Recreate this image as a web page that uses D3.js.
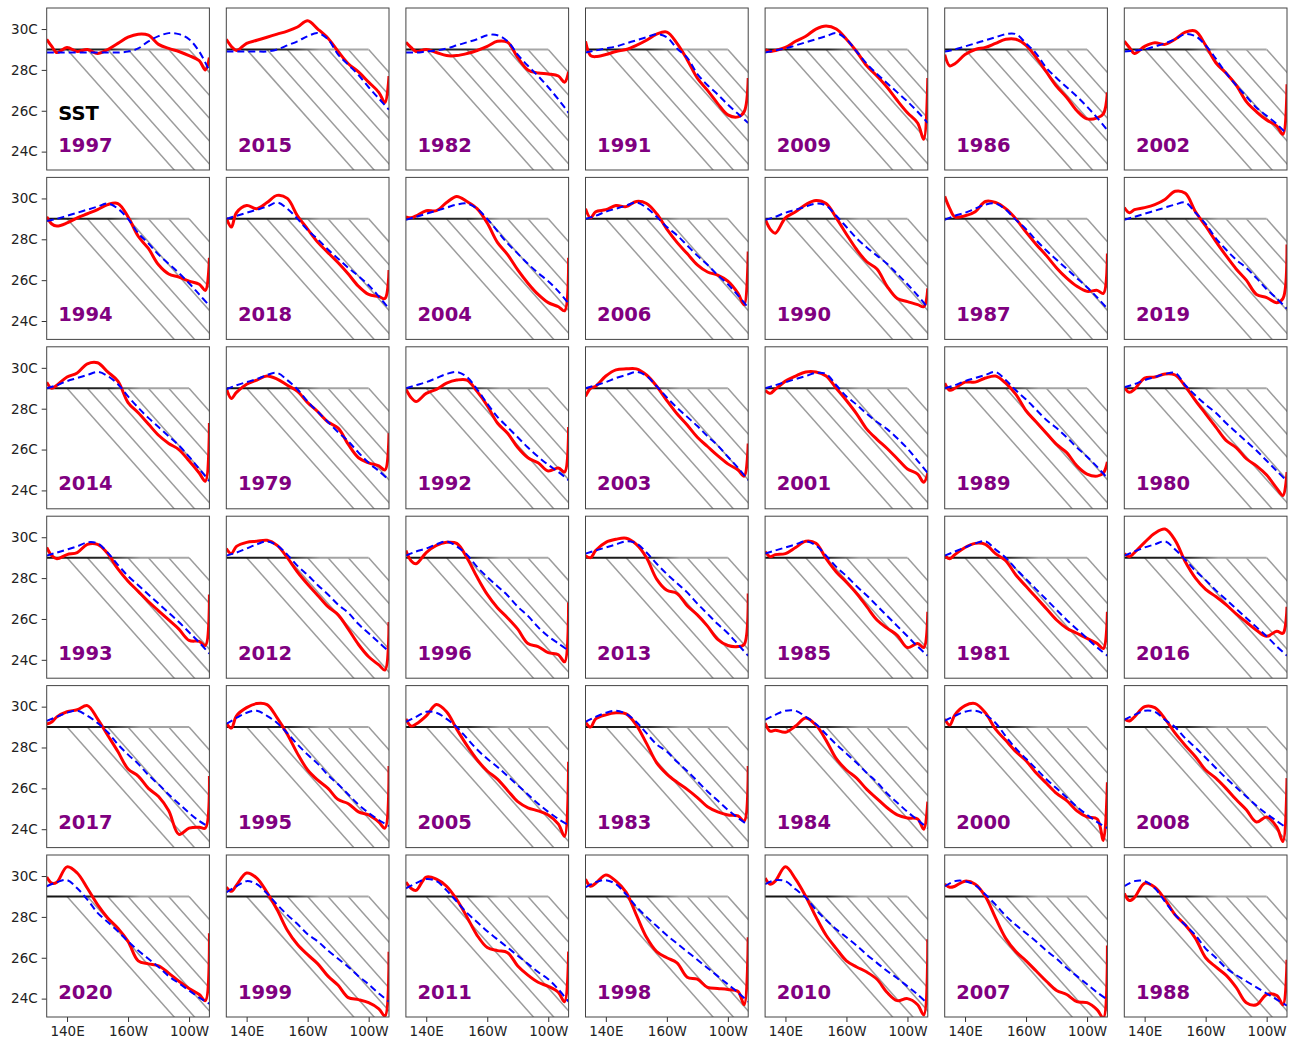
<!DOCTYPE html>
<html>
<head>
<meta charset="utf-8">
<script src="https://cdn.jsdelivr.net/npm/d3@7"></script>
<style>
  body { margin: 0; background: #fff; }
  svg { display: block; }
  text { font-family: "DejaVu Sans", "Noto Sans", sans-serif; }
</style>
</head>
<body>
<svg id="chart" width="1294" height="1040"></svg>
<script>
// Longitudes (degrees east) at which the SST profile and the fitted profile are sampled
const lonSst = [120, 125, 130, 140, 150, 160, 170, 180, 190, 200, 210, 220, 230, 240, 250, 260, 270, 276, 280];
const lonFit = [120, 130, 140, 150, 160, 170, 180, 190, 200, 210, 220, 230, 240, 250, 260, 270, 280];

// Warm-pool threshold and the hatched cold-tongue guide lines
const threshold = 29;
const hatchStarts = [140, 160, 180, 200, 220, 240, 260];
const hatchSlope = 0.056; // degC per degree of longitude

const yTicks = [24, 26, 28, 30];
const yTickLabels = ["24C", "26C", "28C", "30C"];
const xTicks = [140, 200, 260];
const xTickLabels = ["140E", "160W", "100W"];

// Row 1
const row1Years = [1997, 2015, 1982, 1991, 2009, 1986, 2002];
const row1Sst = [
  [29.5, 29.15, 28.85, 29.1, 28.9, 29.0, 28.8, 29.0, 29.3, 29.6, 29.75, 29.7, 29.25, 29.05, 28.9, 28.7, 28.45, 28.0, 28.6],
  [29.5, 29.15, 28.95, 29.3, 29.45, 29.6, 29.75, 29.9, 30.1, 30.4, 30.0, 29.55, 28.9, 28.3, 27.9, 27.4, 26.9, 26.4, 27.7],
  [29.35, 29.1, 28.9, 29.0, 28.85, 28.7, 28.7, 28.8, 28.95, 29.15, 29.4, 29.35, 28.6, 28.0, 27.85, 27.8, 27.7, 27.4, 27.9],
  [29.4, 28.7, 28.65, 28.75, 28.9, 29.0, 29.2, 29.45, 29.75, 29.85, 29.3, 28.5, 27.6, 27.0, 26.35, 25.8, 25.7, 25.95, 27.6],
  [29.0, 28.9, 28.95, 29.1, 29.4, 29.65, 30.0, 30.15, 30.0, 29.5, 28.9, 28.2, 27.7, 27.15, 26.5, 25.9, 25.4, 24.6, 27.6],
  [28.75, 28.2, 28.3, 28.75, 29.0, 29.1, 29.3, 29.5, 29.5, 29.2, 28.6, 27.9, 27.2, 26.65, 26.0, 25.6, 25.65, 25.85, 26.9],
  [29.4, 29.1, 28.8, 29.15, 29.33, 29.25, 29.5, 29.85, 29.9, 29.2, 28.35, 27.85, 27.25, 26.45, 25.95, 25.55, 25.25, 24.85, 27.3]
];
const row1Fit = [
  [28.85, 28.85, 28.85, 28.85, 28.85, 28.85, 28.85, 28.85, 28.9, 29.05, 29.4, 29.65, 29.8, 29.75, 29.5, 28.9, 27.95],
  [28.9, 28.9, 28.9, 28.9, 28.9, 29.0, 29.2, 29.4, 29.65, 29.8, 29.5, 28.75, 28.25, 27.75, 27.15, 26.6, 26.05],
  [28.85, 28.85, 28.9, 28.95, 29.05, 29.2, 29.35, 29.5, 29.7, 29.7, 29.4, 28.75, 28.2, 27.7, 27.15, 26.55, 25.9],
  [28.85, 28.95, 29.05, 29.15, 29.3, 29.45, 29.6, 29.75, 29.6, 29.05, 28.6, 27.8, 27.25, 26.8, 26.3, 25.85, 25.4],
  [28.85, 28.95, 29.05, 29.2, 29.35, 29.5, 29.65, 29.8, 29.5, 28.9, 28.3, 27.8, 27.35, 26.9, 26.45, 25.95, 25.4],
  [28.9, 29.0, 29.15, 29.3, 29.45, 29.6, 29.75, 29.75, 29.3, 28.8, 28.1, 27.6, 27.15, 26.7, 26.2, 25.65, 25.05],
  [28.9, 28.95, 29.0, 29.15, 29.3, 29.5, 29.75, 29.65, 29.2, 28.55, 27.85, 27.25, 26.7, 26.15, 25.75, 25.35, 24.85]
];

// Row 2
const row2Years = [1994, 2018, 2004, 2006, 1990, 1987, 2019];
const row2Sst = [
  [29.1, 28.75, 28.65, 28.8, 29.05, 29.25, 29.45, 29.7, 29.75, 29.1, 28.15, 27.55, 26.75, 26.3, 26.15, 25.95, 25.8, 25.5, 27.1],
  [29.05, 28.6, 29.3, 29.65, 29.5, 29.8, 30.15, 30.0, 29.15, 28.5, 27.85, 27.35, 26.85, 26.3, 25.7, 25.3, 25.2, 25.1, 26.5],
  [29.1, 29.05, 29.15, 29.4, 29.4, 29.8, 30.1, 29.85, 29.5, 28.8, 27.85, 27.25, 26.5, 25.85, 25.3, 24.9, 24.7, 24.5, 27.1],
  [29.5, 29.05, 29.35, 29.45, 29.65, 29.6, 29.85, 29.75, 29.25, 28.5, 27.85, 27.3, 26.75, 26.4, 26.25, 25.95, 25.35, 24.8, 27.4],
  [29.0, 28.5, 28.3, 29.05, 29.35, 29.7, 29.9, 29.75, 29.05, 28.25, 27.5, 26.9, 26.55, 25.7, 25.1, 24.95, 24.8, 24.7, 25.6],
  [30.1, 29.5, 29.1, 29.15, 29.35, 29.85, 29.8, 29.5, 29.0, 28.35, 27.75, 27.2, 26.6, 26.1, 25.7, 25.45, 25.5, 25.35, 27.3],
  [29.55, 29.3, 29.45, 29.55, 29.7, 29.95, 30.35, 30.25, 29.35, 28.65, 27.9, 27.2, 26.55, 26.0, 25.3, 25.15, 24.9, 25.1, 27.75]
];
const row2Fit = [
  [28.9, 29.0, 29.15, 29.3, 29.45, 29.6, 29.75, 29.5, 29.0, 28.3, 27.8, 27.25, 26.8, 26.35, 25.85, 25.3, 24.75],
  [29.0, 29.15, 29.3, 29.45, 29.6, 29.8, 29.5, 29.0, 28.45, 28.0, 27.5, 27.05, 26.6, 26.2, 25.75, 25.2, 24.6],
  [28.95, 29.1, 29.25, 29.4, 29.55, 29.7, 29.75, 29.5, 29.0, 28.4, 27.8, 27.3, 26.8, 26.35, 25.95, 25.45, 24.85],
  [29.0, 29.15, 29.35, 29.5, 29.65, 29.8, 29.55, 29.1, 28.6, 28.2, 27.7, 27.2, 26.75, 26.25, 25.8, 25.25, 24.65],
  [28.95, 29.1, 29.3, 29.45, 29.6, 29.75, 29.65, 29.15, 28.6, 28.05, 27.6, 27.2, 26.8, 26.3, 25.8, 25.25, 24.65],
  [28.95, 29.15, 29.3, 29.5, 29.7, 29.75, 29.45, 28.95, 28.5, 27.95, 27.45, 27.0, 26.55, 26.1, 25.65, 25.15, 24.6],
  [28.95, 29.1, 29.25, 29.4, 29.55, 29.7, 29.8, 29.3, 28.75, 28.05, 27.5, 27.0, 26.6, 26.1, 25.55, 25.1, 24.6]
];

// Row 3
const row3Years = [2014, 1979, 1992, 2003, 2001, 1989, 1980];
const row3Sst = [
  [29.3, 29.0, 29.15, 29.55, 29.75, 30.2, 30.25, 29.8, 29.35, 28.3, 27.8, 27.25, 26.7, 26.3, 26.0, 25.45, 24.85, 24.45, 27.3],
  [29.0, 28.5, 28.8, 29.2, 29.4, 29.6, 29.45, 29.15, 28.85, 28.3, 27.85, 27.35, 27.05, 26.25, 25.6, 25.35, 25.2, 25.0, 26.8],
  [28.95, 28.55, 28.35, 28.75, 28.95, 29.25, 29.4, 29.4, 28.85, 28.15, 27.3, 26.8, 26.1, 25.6, 25.35, 24.95, 25.1, 24.9, 27.1],
  [28.6, 29.0, 29.1, 29.6, 29.9, 29.95, 29.95, 29.65, 29.1, 28.4, 27.75, 27.2, 26.6, 26.15, 25.7, 25.3, 25.0, 24.7, 26.3],
  [28.9, 28.75, 28.95, 29.35, 29.6, 29.8, 29.8, 29.6, 29.0, 28.4, 27.75, 27.0, 26.5, 26.05, 25.55, 25.05, 24.8, 24.4, 24.85],
  [29.25, 28.9, 29.0, 29.3, 29.3, 29.5, 29.6, 29.25, 28.7, 27.9, 27.35, 26.8, 26.25, 25.85, 25.2, 24.8, 24.7, 24.85, 25.4],
  [29.05, 28.8, 28.95, 29.5, 29.55, 29.7, 29.65, 29.1, 28.4, 27.75, 27.1, 26.45, 26.1, 25.55, 25.2, 24.75, 24.1, 23.75, 24.9]
];
const row3Fit = [
  [29.0, 29.15, 29.35, 29.5, 29.65, 29.8, 29.6, 29.2, 28.6, 28.05, 27.55, 27.1, 26.65, 26.2, 25.65, 25.05, 24.45],
  [28.95, 29.15, 29.3, 29.45, 29.65, 29.75, 29.4, 28.95, 28.35, 27.85, 27.35, 26.85, 26.4, 25.85, 25.35, 24.95, 24.5],
  [29.0, 29.15, 29.3, 29.5, 29.7, 29.8, 29.55, 28.95, 28.25, 27.6, 27.1, 26.6, 26.1, 25.65, 25.25, 24.9, 24.5],
  [29.0, 29.15, 29.3, 29.5, 29.65, 29.8, 29.6, 29.1, 28.55, 28.05, 27.6, 27.15, 26.65, 26.2, 25.65, 25.1, 24.5],
  [29.0, 29.15, 29.3, 29.45, 29.6, 29.75, 29.7, 29.15, 28.6, 28.2, 27.75, 27.35, 27.0, 26.55, 26.05, 25.45, 24.85],
  [29.0, 29.15, 29.35, 29.5, 29.65, 29.8, 29.4, 28.9, 28.45, 27.95, 27.45, 27.05, 26.6, 26.1, 25.65, 25.15, 24.6],
  [29.05, 29.2, 29.4, 29.55, 29.7, 29.75, 29.15, 28.65, 28.2, 27.8, 27.3, 26.85, 26.4, 25.95, 25.45, 24.95, 24.45]
];

// Row 4
const row4Years = [1993, 2012, 1996, 2013, 1985, 1981, 2016];
const row4Sst = [
  [29.5, 29.1, 28.95, 29.15, 29.25, 29.65, 29.65, 29.2, 28.45, 27.85, 27.35, 26.85, 26.4, 25.95, 25.5, 24.95, 24.9, 24.7, 27.2],
  [29.45, 29.2, 29.55, 29.75, 29.8, 29.85, 29.6, 29.0, 28.3, 27.7, 27.15, 26.6, 26.2, 25.5, 24.75, 24.15, 23.75, 23.5, 25.85],
  [29.35, 28.85, 28.7, 29.25, 29.6, 29.75, 29.7, 29.0, 28.05, 27.2, 26.55, 26.05, 25.5, 24.8, 24.65, 24.35, 24.25, 23.9, 26.8],
  [29.1, 29.0, 29.35, 29.75, 29.9, 29.95, 29.65, 29.0, 27.95, 27.4, 27.25, 26.65, 26.2, 25.65, 25.0, 24.7, 24.65, 24.75, 27.25],
  [29.3, 29.05, 29.15, 29.2, 29.5, 29.8, 29.7, 28.95, 28.3, 27.8, 27.25, 26.6, 25.95, 25.55, 25.2, 24.6, 24.8, 24.6, 26.35],
  [29.1, 28.95, 29.15, 29.5, 29.7, 29.65, 29.2, 28.85, 28.15, 27.6, 27.05, 26.5, 25.95, 25.55, 25.3, 25.05, 24.8, 24.55, 26.35],
  [29.2, 29.05, 29.25, 29.75, 30.2, 30.4, 29.85, 28.8, 28.0, 27.45, 27.1, 26.7, 26.25, 25.85, 25.45, 25.15, 25.4, 25.3, 26.6]
];
const row4Fit = [
  [29.1, 29.25, 29.4, 29.55, 29.75, 29.7, 29.25, 28.65, 28.1, 27.65, 27.2, 26.75, 26.3, 25.85, 25.35, 24.85, 24.3],
  [29.1, 29.25, 29.45, 29.65, 29.8, 29.6, 29.15, 28.6, 28.15, 27.65, 27.2, 26.7, 26.3, 25.75, 25.3, 24.85, 24.4],
  [29.1, 29.3, 29.45, 29.65, 29.8, 29.55, 29.15, 28.55, 28.05, 27.6, 27.15, 26.6, 26.15, 25.6, 25.15, 24.8, 24.45],
  [29.2, 29.35, 29.5, 29.65, 29.8, 29.7, 29.25, 28.7, 28.2, 27.75, 27.3, 26.75, 26.25, 25.75, 25.3, 24.75, 24.2],
  [29.2, 29.35, 29.5, 29.65, 29.8, 29.6, 29.1, 28.55, 28.1, 27.6, 27.15, 26.65, 26.15, 25.65, 25.15, 24.65, 24.2],
  [29.1, 29.3, 29.5, 29.7, 29.8, 29.4, 29.0, 28.45, 27.95, 27.45, 26.95, 26.45, 25.95, 25.5, 25.05, 24.6, 24.2],
  [29.1, 29.3, 29.5, 29.65, 29.8, 29.4, 28.9, 28.35, 27.9, 27.4, 26.95, 26.5, 26.05, 25.6, 25.15, 24.65, 24.2]
];

// Row 5
const row5Years = [2017, 1995, 2005, 1983, 1984, 2000, 2008];
const row5Sst = [
  [29.15, 29.25, 29.5, 29.75, 29.85, 30.05, 29.4, 28.6, 27.8, 26.95, 26.6, 26.0, 25.6, 24.9, 23.75, 24.05, 24.1, 24.05, 26.6],
  [29.2, 28.95, 29.55, 29.95, 30.15, 30.1, 29.45, 28.65, 27.7, 26.9, 26.4, 26.0, 25.45, 25.25, 24.85, 24.7, 24.35, 24.05, 27.1],
  [29.4, 29.05, 29.15, 29.55, 30.1, 29.75, 28.9, 28.1, 27.4, 26.85, 26.45, 25.9, 25.35, 25.05, 24.9, 24.7, 24.25, 23.65, 27.3],
  [29.25, 29.0, 29.4, 29.6, 29.7, 29.65, 29.1, 28.2, 27.25, 26.7, 26.3, 25.95, 25.55, 25.1, 24.85, 24.7, 24.65, 24.4, 27.1],
  [29.2, 28.8, 28.85, 28.75, 29.05, 29.45, 29.1, 28.35, 27.45, 26.9, 26.5, 25.95, 25.5, 25.05, 24.7, 24.55, 24.5, 24.0, 25.35],
  [29.4, 29.1, 29.6, 30.05, 30.15, 29.7, 28.9, 28.35, 27.8, 27.35, 26.75, 26.25, 25.75, 25.4, 24.9, 24.6, 24.5, 23.45, 26.3],
  [29.4, 29.3, 29.5, 30.0, 29.95, 29.4, 28.7, 28.1, 27.55, 26.9, 26.5, 26.0, 25.45, 24.95, 24.35, 24.6, 24.1, 23.4, 26.5]
];
const row5Fit = [
  [29.3, 29.5, 29.7, 29.8, 29.55, 29.2, 28.75, 28.15, 27.65, 27.2, 26.65, 26.2, 25.7, 25.25, 24.8, 24.4, 24.1],
  [29.15, 29.45, 29.7, 29.8, 29.55, 29.2, 28.7, 28.15, 27.65, 27.2, 26.65, 26.2, 25.7, 25.2, 24.8, 24.45, 24.15],
  [29.25, 29.5, 29.75, 29.7, 29.4, 29.0, 28.45, 27.9, 27.45, 27.05, 26.6, 26.15, 25.7, 25.25, 24.85, 24.5, 24.2],
  [29.25, 29.5, 29.7, 29.8, 29.65, 29.25, 28.7, 28.15, 27.8, 27.3, 26.85, 26.35, 25.85, 25.4, 24.95, 24.55, 24.2],
  [29.35, 29.6, 29.8, 29.8, 29.5, 29.15, 28.65, 28.15, 27.7, 27.25, 26.75, 26.3, 25.75, 25.3, 24.85, 24.45, 24.05],
  [29.3, 29.55, 29.75, 29.8, 29.6, 29.2, 28.55, 27.95, 27.45, 26.95, 26.45, 26.0, 25.55, 25.1, 24.7, 24.35, 24.05],
  [29.35, 29.6, 29.8, 29.75, 29.35, 29.0, 28.45, 28.0, 27.5, 27.0, 26.5, 26.05, 25.6, 25.15, 24.75, 24.4, 24.05]
];

// Row 6
const row6Years = [2020, 1999, 2011, 1998, 2010, 2007, 1988];
const row6Sst = [
  [29.95, 29.65, 29.7, 30.45, 30.15, 29.4, 28.6, 27.95, 27.45, 26.8, 25.85, 25.7, 25.6, 25.25, 24.85, 24.5, 24.2, 23.9, 27.2],
  [29.45, 29.25, 29.55, 30.15, 29.9, 29.2, 28.35, 27.35, 26.65, 26.15, 25.7, 25.1, 24.65, 24.05, 23.95, 23.8, 23.5, 23.15, 26.3],
  [29.7, 29.4, 29.3, 29.95, 29.85, 29.5, 28.85, 28.0, 27.1, 26.5, 26.35, 26.25, 25.6, 25.15, 24.8, 24.6, 24.3, 23.85, 26.3],
  [29.85, 29.5, 29.65, 30.05, 29.75, 29.2, 28.1, 27.0, 26.3, 26.0, 25.75, 25.05, 24.95, 24.55, 24.5, 24.45, 24.35, 23.7, 27.0],
  [29.9, 29.6, 29.75, 30.45, 29.85, 29.0, 28.0, 27.1, 26.45, 25.85, 25.55, 25.3, 24.95, 24.3, 23.9, 24.0, 23.7, 23.2, 26.9],
  [29.6, 29.45, 29.5, 29.75, 29.6, 29.0, 27.95, 26.95, 26.3, 25.85, 25.35, 24.85, 24.4, 24.2, 23.85, 23.8, 23.45, 23.05, 26.6],
  [29.15, 28.8, 28.95, 29.65, 29.45, 28.85, 28.1, 27.6, 26.95, 26.0, 25.55, 25.15, 24.55, 23.8, 23.7, 24.2, 24.15, 23.7, 25.9]
];
const row6Fit = [
  [29.5, 29.7, 29.8, 29.4, 28.85, 28.2, 27.75, 27.3, 26.8, 26.35, 25.95, 25.55, 25.1, 24.75, 24.4, 24.05, 23.75],
  [29.2, 29.5, 29.75, 29.6, 29.15, 28.6, 28.1, 27.65, 27.15, 26.8, 26.35, 25.95, 25.55, 25.1, 24.7, 24.25, 23.85],
  [29.4, 29.65, 29.85, 29.75, 29.3, 28.75, 28.2, 27.75, 27.3, 26.9, 26.5, 26.1, 25.7, 25.3, 24.95, 24.45, 23.85],
  [29.45, 29.7, 29.8, 29.6, 29.1, 28.5, 28.0, 27.55, 27.1, 26.7, 26.3, 25.9, 25.5, 25.1, 24.7, 24.3, 23.85],
  [29.6, 29.8, 29.75, 29.35, 28.95, 28.35, 27.85, 27.4, 27.0, 26.6, 26.15, 25.75, 25.35, 25.0, 24.6, 24.2, 23.75],
  [29.5, 29.75, 29.75, 29.55, 29.1, 28.6, 28.05, 27.6, 27.2, 26.8, 26.35, 25.95, 25.5, 25.1, 24.7, 24.3, 23.95],
  [29.5, 29.75, 29.75, 29.4, 28.75, 28.1, 27.6, 27.1, 26.45, 26.0, 25.5, 25.15, 24.85, 24.55, 24.25, 23.95, 23.65]
];

// Grid table assembled from the rows above
const rows = [
  { years: row1Years, sst: row1Sst, fit: row1Fit },
  { years: row2Years, sst: row2Sst, fit: row2Fit },
  { years: row3Years, sst: row3Sst, fit: row3Fit },
  { years: row4Years, sst: row4Sst, fit: row4Fit },
  { years: row5Years, sst: row5Sst, fit: row5Fit },
  { years: row6Years, sst: row6Sst, fit: row6Fit }
];

// ---- layout ----
const left0 = 46.7, colStep = 179.6;
const top0 = 8, rowStep = 169.4;
const W = 162.7, H = 162;

const x = d3.scaleLinear().domain([120, 280]).range([0, W]);
const y = d3.scaleLinear().domain([23.1, 31.03]).range([H, 0]);

const svg = d3.select("#chart");
svg.append("rect").attr("width", 1294).attr("height", 1040).attr("fill", "#fff");

const defs = svg.append("defs");
defs.append("clipPath").attr("id", "plot-clip")
  .append("rect").attr("width", W).attr("height", H);

// threshold line: dark over the warm pool, fading to the hatch grey further east
const grad = defs.append("linearGradient")
  .attr("id", "thresh-grad")
  .attr("gradientUnits", "userSpaceOnUse")
  .attr("x1", x(120)).attr("y1", 0)
  .attr("x2", x(260)).attr("y2", 0);
grad.append("stop").attr("offset", 0).attr("stop-color", "#111");
grad.append("stop").attr("offset", 0.45).attr("stop-color", "#2a2a2a");
grad.append("stop").attr("offset", 0.66).attr("stop-color", "#a0a0a0");
grad.append("stop").attr("offset", 1).attr("stop-color", "#a8a8a8");

const sstLine = d3.line()
  .x((d, i) => x(lonSst[i]))
  .y(d => y(d))
  .curve(d3.curveCatmullRom.alpha(0.5));

const fitLine = d3.line()
  .x((d, i) => x(lonFit[i]))
  .y(d => y(d))
  .curve(d3.curveCatmullRom.alpha(0.5));

rows.forEach((row, r) => {
  row.years.forEach((year, c) => {
    const g = svg.append("g")
      .attr("transform", `translate(${left0 + c * colStep},${top0 + r * rowStep})`);

    const plot = g.append("g").attr("clip-path", "url(#plot-clip)");

    // hatched guide lines starting on the threshold and sloping eastward
    plot.selectAll("line.hatch")
      .data(hatchStarts)
      .join("line")
      .attr("class", "hatch")
      .attr("x1", d => x(d))
      .attr("y1", y(threshold))
      .attr("x2", d => x(d + 140))
      .attr("y2", y(threshold - 140 * hatchSlope))
      .attr("stroke", "#9c9c9c")
      .attr("stroke-width", 1.5);

    // threshold line
    plot.append("line")
      .attr("x1", x(120)).attr("x2", x(260))
      .attr("y1", y(threshold)).attr("y2", y(threshold))
      .attr("stroke", "url(#thresh-grad)")
      .attr("stroke-width", 2);

    // observed SST profile
    plot.append("path")
      .datum(row.sst[c])
      .attr("d", sstLine)
      .attr("fill", "none")
      .attr("stroke", "#ff0000")
      .attr("stroke-width", 3)
      .attr("stroke-linejoin", "round");

    // fitted profile
    plot.append("path")
      .datum(row.fit[c])
      .attr("d", fitLine)
      .attr("fill", "none")
      .attr("stroke", "#0000ff")
      .attr("stroke-width", 2)
      .attr("stroke-dasharray", "7,4");

    // labels
    if (r === 0 && c === 0) {
      g.append("text")
        .attr("x", 11.6).attr("y", 112)
        .attr("font-size", 19.5).attr("font-weight", "bold")
        .attr("fill", "#000")
        .text("SST");
    }
    g.append("text")
      .attr("x", 11.6).attr("y", 143.5)
      .attr("font-size", 19.5).attr("font-weight", "bold")
      .attr("fill", "#800080")
      .text(year);

    // axes on the outer edges of the grid
    if (c === 0) {
      const ay = g.append("g")
        .call(d3.axisLeft(y).tickValues(yTicks)
          .tickFormat((d, i) => yTickLabels[i])
          .tickSize(5).tickPadding(4));
      ay.select(".domain").remove();
      ay.selectAll("line").attr("stroke", "#333");
      ay.selectAll("text").attr("font-size", 13.5).attr("fill", "#222")
        .attr("font-family", '"DejaVu Sans", sans-serif');
    }
    if (r === rows.length - 1) {
      const ax = g.append("g")
        .attr("transform", `translate(0,${H})`)
        .call(d3.axisBottom(x).tickValues(xTicks)
          .tickFormat((d, i) => xTickLabels[i])
          .tickSize(5).tickPadding(4));
      ax.select(".domain").remove();
      ax.selectAll("line").attr("stroke", "#333");
      ax.selectAll("text").attr("font-size", 13.5).attr("fill", "#222")
        .attr("font-family", '"DejaVu Sans", sans-serif');
    }

    // frame
    g.append("rect")
      .attr("width", W).attr("height", H)
      .attr("fill", "none")
      .attr("stroke", "#444")
      .attr("stroke-width", 1);
  });
});
</script>
</body>
</html>
